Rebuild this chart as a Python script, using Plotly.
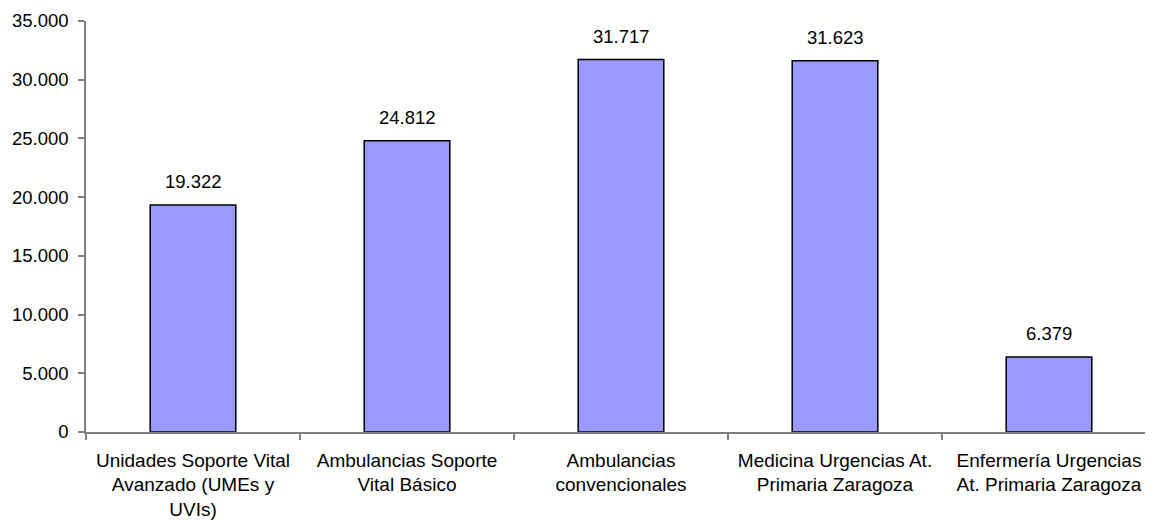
import plotly.graph_objects as go

categories = [
    "Unidades Soporte Vital<br>Avanzado (UMEs y<br>UVIs)",
    "Ambulancias Soporte<br>Vital Básico",
    "Ambulancias<br>convencionales",
    "Medicina Urgencias At.<br>Primaria Zaragoza",
    "Enfermería Urgencias<br>At. Primaria Zaragoza",
]
values = [19322, 24812, 31717, 31623, 6379]
y_ticks = [0, 5000, 10000, 15000, 20000, 25000, 30000, 35000]

FONT = "Liberation Sans, Arial, sans-serif"

fig = go.Figure()
fig.add_trace(go.Bar(
    x=categories,
    y=values,
    marker=dict(color="#9999FF", line=dict(color="#000000", width=1.5)),
    hoverinfo="skip",
))

for c, v in zip(categories, values):
    fig.add_annotation(
        x=c, y=v, xref="x", yref="y",
        text=f"{v:,}".replace(",", "."),
        showarrow=False, yanchor="bottom", yshift=11,
        font=dict(family=FONT, size=18.5, color="#000000"),
    )

fig.update_layout(
    width=1153, height=514,
    margin=dict(l=78, r=5, t=13, b=90),
    paper_bgcolor="white", plot_bgcolor="white",
    separators=",.",
    bargap=0.6,
    showlegend=False,
    font=dict(family=FONT, size=18.5, color="#000000"),
)
fig.update_xaxes(
    automargin=False,
    showline=True, linecolor="#808080", linewidth=1.5,
    ticks="outside", tickson="boundaries", ticklen=6, tickcolor="#808080", tickwidth=1.5,
    showgrid=False, tickangle=0, ticklabelstandoff=10,
    tickfont=dict(family=FONT, size=19, color="#000000"),
)
fig.update_yaxes(
    automargin=False,
    range=[0, 35000], tickvals=y_ticks, tickformat=",d",
    showline=True, linecolor="#808080", linewidth=1.5,
    ticks="outside", ticklen=6, tickcolor="#808080", tickwidth=1.5,
    showgrid=False, zeroline=False, ticklabelstandoff=6,
    tickfont=dict(family=FONT, size=18.5, color="#000000"),
)

fig.write_html("out.html")
